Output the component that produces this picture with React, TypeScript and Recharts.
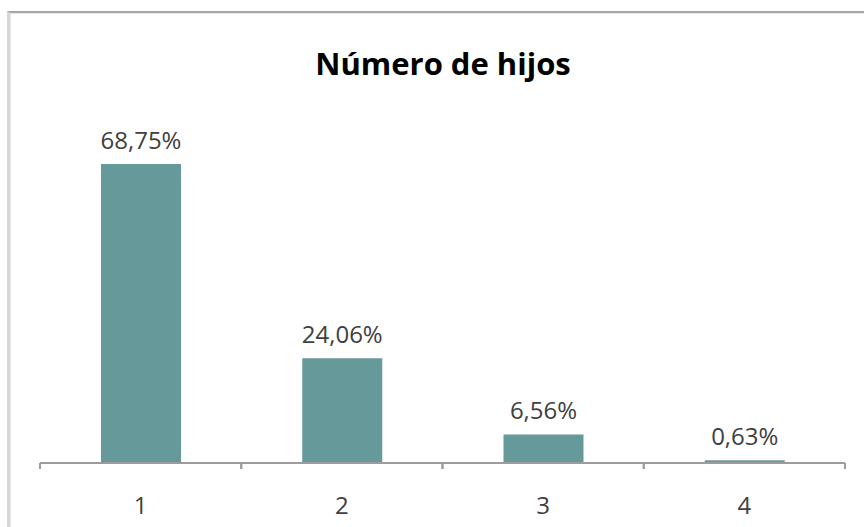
import React from 'react';
import { BarChart, Bar, XAxis, YAxis, LabelList } from 'recharts';

const categories = ['1', '2', '3', '4'];
const values = [68.75, 24.06, 6.56, 0.63];
const title = 'Número de hijos';

const data = categories.map((c, i) => ({ name: c, value: values[i] }));

const FONT = '"Open Sans", "Noto Sans", sans-serif';
const CHART_W = 864;
const MARGIN = { top: 115, right: 19, bottom: 34, left: 40 };

const fmt = (v: number) => v.toFixed(2).replace('.', ',') + '%';

const TopLabel = (props: any) => {
  const { x, y, width, value } = props;
  return (
    <text
      x={Number(x) + Number(width) / 2}
      y={Number(y) - 15}
      textAnchor="middle"
      fill="#404040"
      fontSize={24}
      fontFamily={FONT}
    >
      {fmt(Number(value))}
    </text>
  );
};

const CatTick = (props: any) => {
  const { x, y, payload } = props;
  const half =
    payload && typeof payload.offset === 'number' && payload.offset > 0
      ? payload.offset
      : (CHART_W - MARGIN.left - MARGIN.right) / categories.length / 2;
  const xl = Number(x) - half;
  const xr = Number(x) + half;
  return (
    <g>
      <line x1={xl} x2={xl} y1={y} y2={Number(y) + 6} stroke="#9c9c9c" strokeWidth={2} />
      <line x1={xr} x2={xr} y1={y} y2={Number(y) + 6} stroke="#9c9c9c" strokeWidth={2} />
      <text
        x={x}
        y={Number(y) + 34}
        dy="0.71em"
        textAnchor="middle"
        fill="#404040"
        fontSize={24}
        fontFamily={FONT}
      >
        {payload.value}
      </text>
    </g>
  );
};

export default function App() {
  return (
    <div style={{ position: 'absolute', left: 0, top: 0, width: 864, height: 527, overflow: 'hidden', background: '#fff' }}>
      <div
        style={{
          position: 'absolute',
          left: 7,
          top: 11,
          width: 1000,
          height: 800,
          borderTop: '2px solid #a8a8a8',
          borderLeft: '3px solid #d6d6d6',
          boxShadow: 'inset 1px 1px 0 #e6e6e6',
        }}
      />
      <div
        style={{
          position: 'absolute',
          left: 0,
          top: 43,
          width: 886,
          textAlign: 'center',
          fontFamily: FONT,
          fontWeight: 700,
          fontSize: 31,
          color: '#000',
          lineHeight: '40px',
        }}
      >
        {title}
      </div>
      <div style={{ position: 'absolute', left: 0, top: 0 }}>
        <BarChart width={CHART_W} height={527} data={data} margin={MARGIN}>
          <YAxis hide domain={[0, 80]} />
          <XAxis
            dataKey="name"
            height={30}
            axisLine={{ stroke: '#9c9c9c', strokeWidth: 2 }}
            tickLine={false}
            tickSize={0}
            tickMargin={0}
            tick={CatTick}
          />
          <Bar dataKey="value" fill="#669999" barSize={80} isAnimationActive={false}>
            <LabelList dataKey="value" content={TopLabel} />
          </Bar>
        </BarChart>
      </div>
    </div>
  );
}
